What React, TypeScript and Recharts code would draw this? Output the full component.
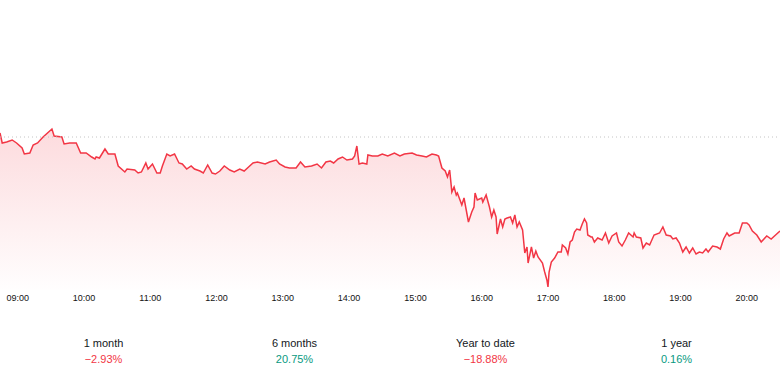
import React from "react";
import { Area, AreaChart, ReferenceLine, XAxis, YAxis } from "recharts";

// minutes since midnight
const times = [
  524, 526, 530, 535, 539, 544, 546, 551, 554, 558, 563, 567, 571, 573, 580, 582, 587, 593, 597, 602,
  607, 610, 611, 614, 619, 622, 628, 631, 637, 639, 646, 649, 652, 656, 658, 662, 666, 669, 671, 675,
  678, 682, 686, 689, 693, 697, 700, 705, 708, 712, 716, 719, 723, 727, 732, 736, 741, 745, 749, 753,
  757, 764, 768, 774, 777, 782, 786, 792, 796, 800, 806, 811, 815, 819, 823, 826, 830, 834, 838, 843,
  845, 847, 849, 852, 856, 857, 861, 866, 870, 875, 881, 886, 890, 897, 901, 906, 910, 915, 919, 921,
  924, 927, 929, 931, 933, 935, 937, 938, 942, 944, 946, 948, 951, 953, 954, 956, 960, 961, 964, 967,
  969, 971, 973, 974, 977, 979, 981, 983, 986, 988, 990, 992, 994, 997, 999, 1001, 1002, 1005, 1007, 1009,
  1011, 1015, 1017, 1019, 1020, 1021, 1023, 1026, 1029, 1032, 1033, 1036, 1038, 1040, 1042, 1044, 1046, 1049, 1051, 1053,
  1055, 1056, 1059, 1060, 1062, 1065, 1069, 1072, 1075, 1078, 1082, 1084, 1087, 1090, 1093, 1097, 1098, 1100, 1104, 1106,
  1109, 1112, 1116, 1121, 1124, 1127, 1131, 1133, 1136, 1139, 1142, 1145, 1148, 1151, 1154, 1157, 1160, 1163, 1165, 1169,
  1173, 1176, 1179, 1182, 1184, 1189, 1193, 1196, 1200, 1202, 1205, 1209, 1213, 1218, 1222, 1226, 1230,
];

const prices = [
  100.2, 99.7, 99.75, 99.85, 99.7, 99.45, 99.15, 99.2, 99.6, 99.7, 100.0, 100.2, 100.4, 100.05, 100.0, 99.65, 99.7, 99.7, 99.2, 99.2,
  99.0, 98.9, 99.0, 98.95, 99.4, 99.15, 99.15, 98.55, 98.25, 98.4, 98.35, 98.2, 98.25, 98.7, 98.4, 98.65, 98.2, 98.2, 98.55, 99.15,
  99.05, 99.15, 98.7, 98.65, 98.4, 98.55, 98.4, 98.3, 98.2, 98.6, 98.2, 98.15, 98.3, 98.55, 98.35, 98.25, 98.4, 98.3, 98.5, 98.7,
  98.75, 98.65, 98.75, 98.85, 98.65, 98.5, 98.45, 98.45, 98.75, 98.5, 98.55, 98.65, 98.45, 98.75, 98.8, 98.7, 98.9, 99.0, 98.85, 98.9,
  99.05, 99.55, 98.65, 98.7, 98.65, 99.1, 99.05, 99.05, 99.15, 99.05, 99.2, 99.05, 99.15, 99.2, 99.1, 99.05, 99.0, 99.15, 99.1, 99.05,
  98.45, 98.3, 98.0, 98.35, 97.25, 97.5, 97.1, 97.2, 96.6, 96.95, 96.35, 95.75, 96.25, 96.5, 97.2, 96.85, 96.95, 96.75, 97.1, 96.5,
  96.0, 96.35, 96.0, 95.15, 95.9, 95.5, 95.9, 95.95, 96.0, 95.7, 96.1, 95.5, 95.75, 95.35, 94.2, 94.5, 93.7, 94.5, 93.95, 94.3,
  94.0, 93.7, 93.25, 92.85, 92.5, 93.25, 93.75, 93.95, 94.25, 94.25, 94.6, 94.45, 94.15, 94.75, 94.85, 95.25, 95.4, 95.35, 95.65, 95.9,
  95.7, 95.1, 95.0, 95.0, 94.75, 94.95, 94.85, 95.2, 94.7, 95.05, 95.2, 94.75, 94.55, 94.85, 95.2, 95.0, 95.2, 95.0, 94.95, 94.45,
  94.7, 94.6, 95.1, 95.2, 95.5, 95.1, 95.05, 94.9, 94.95, 94.7, 94.25, 94.5, 94.2, 94.45, 94.15, 94.25, 94.2, 94.4, 94.25, 94.55,
  94.5, 94.4, 94.9, 95.2, 95.05, 95.2, 95.2, 95.7, 95.7, 95.6, 95.3, 95.1, 94.75, 95.05, 94.9, 95.1, 95.3,
];

const previousClose = 100;

const tickTimes = [540, 600, 660, 720, 780, 840, 900, 960, 1020, 1080, 1140, 1200];
const tickLabels = ["09:00", "10:00", "11:00", "12:00", "13:00", "14:00", "15:00", "16:00", "17:00", "18:00", "19:00", "20:00"];

const periods = ["1 month", "6 months", "Year to date", "1 year"];
const changes = [-2.93, 20.75, -18.88, 0.16];

const RED = "#f23645";
const GREEN = "#089981";

const data = times.map((t, i) => ({ t, price: prices[i] }));

const formatChange = (v: number) => (v < 0 ? `\u2212${Math.abs(v).toFixed(2)}%` : `${v.toFixed(2)}%`);

export default function App() {
  return (
    <div style={{ width: 780, height: 392, fontFamily: "'Liberation Sans', Arial, sans-serif" }}>
      <style>{"body{margin:0}"}</style>
      <AreaChart width={780} height={320} data={data} margin={{ top: 0, right: 0, bottom: 0, left: 0 }}>
        <defs>
          <linearGradient id="priceFill" x1="0" y1="0" x2="0" y2="1">
            <stop offset="0%" stopColor={RED} stopOpacity={0.3} />
            <stop offset="100%" stopColor={RED} stopOpacity={0.01} />
          </linearGradient>
        </defs>
        <XAxis
          dataKey="t"
          type="number"
          domain={[524, 1230]}
          ticks={tickTimes}
          tickFormatter={(v: number) => tickLabels[tickTimes.indexOf(v)]}
          axisLine={false}
          tickLine={false}
          tickSize={0}
          tickMargin={5}
          height={30}
          tick={{ fontSize: 9, fill: "#131313" }}
          interval={0}
        />
        <YAxis hide domain={[92.35, 106.85]} />
        <ReferenceLine y={previousClose} stroke="#c4c4c4" strokeDasharray="1 3" />
        <Area
          type="linear"
          dataKey="price"
          stroke={RED}
          strokeWidth={1.5}
          fill="url(#priceFill)"
          isAnimationActive={false}
          dot={false}
          activeDot={false}
        />
      </AreaChart>
      <div style={{ display: "flex", padding: "0 8px", marginTop: 15 }}>
        {periods.map((p, i) => (
          <div key={p} style={{ flex: 1, textAlign: "center", fontSize: 11, lineHeight: "16px" }}>
            <div style={{ color: "#131722" }}>{p}</div>
            <div style={{ color: changes[i] < 0 ? RED : GREEN }}>{formatChange(changes[i])}</div>
          </div>
        ))}
      </div>
    </div>
  );
}
